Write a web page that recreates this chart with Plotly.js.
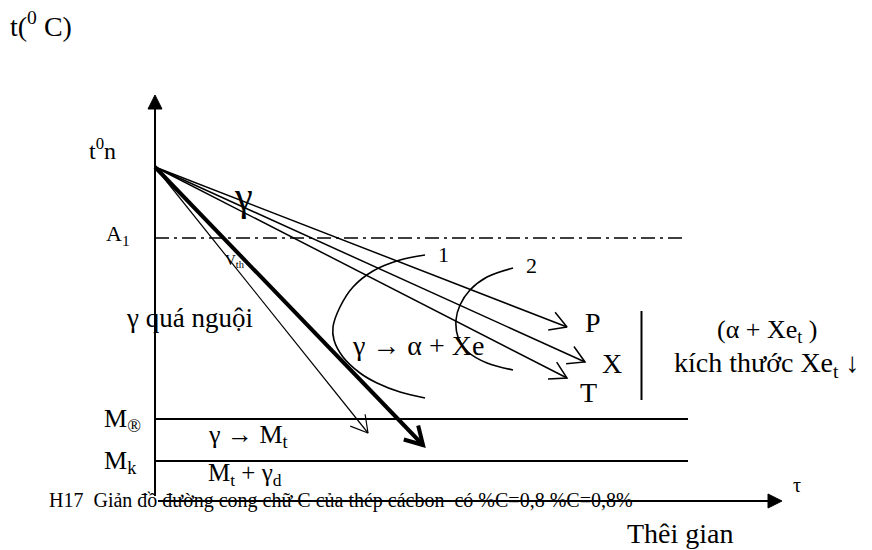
<!DOCTYPE html>
<html>
<head>
<meta charset="utf-8">
<script src="https://cdn.plot.ly/plotly-3.0.1.min.js"></script>
<style>
  html, body { margin: 0; padding: 0; background: #fff; }
  #chart { width: 872px; height: 550px; }
</style>
</head>
<body>
<div id="chart"></div>
<script>
// Diagram units: x runs left to right, y runs top to bottom (reversed axis).

// Origin of the axes and the start temperature t0n
const axisOriginX = 155;
const startTempY = 167;
const axisTopY = 95;
const axisBottomY = 496;
const axisEndX = 782;
const axisY = 501;

// Horizontal temperature levels: A1, Mđ (M®), Mk
const levelNames = ['A1', 'Md', 'Mk'];
const levelY = [238, 419, 461];
const levelEndX = [685, 688, 688];

// Cooling paths from t0n: P, X, T, critical (thin), martensite (bold)
const pathNames = ['P', 'X', 'T', 'Vth', 'M'];
const pathEndX = [567, 585, 567, 368, 423];
const pathEndY = [327, 362, 378, 433, 445];

// C-curve 1 (start of transformation)
const curve1X = [425, 400, 373, 353, 340, 333, 334, 343, 360, 377, 400, 425];
const curve1Y = [255, 260, 271, 287, 307, 327, 340, 357, 373, 383, 392, 398];

// C-curve 2 (end of transformation)
const curve2X = [513, 487, 470, 460, 456, 458, 468, 487, 513];
const curve2Y = [268, 277, 290, 305, 320, 337, 352, 363, 370];

// Divider next to the P / X / T products
const dividerX = 641.5;
const dividerY = [311, 400];

const black = '#000';
const serif = 'Liberation Serif, serif';

const traces = [];

function line(xs, ys, width, dash) {
  traces.push({
    type: 'scatter', mode: 'lines', x: xs, y: ys,
    line: { color: black, width: width, dash: dash || 'solid' },
    hoverinfo: 'skip'
  });
}

function filledTriangle(xs, ys) {
  traces.push({
    type: 'scatter', mode: 'lines', x: xs, y: ys, fill: 'toself',
    fillcolor: black, line: { color: black, width: 1 }, hoverinfo: 'skip'
  });
}

// Open arrowhead at (tx, ty) pointing away from (fx, fy)
function openHead(fx, fy, tx, ty, len, spreadDeg, width) {
  const a = Math.atan2(fy - ty, fx - tx);
  const s = spreadDeg * Math.PI / 180;
  line([tx + len * Math.cos(a + s), tx, tx + len * Math.cos(a - s)],
       [ty + len * Math.sin(a + s), ty, ty + len * Math.sin(a - s)], width);
}

// Axes with filled arrow tips
const tipLen = 14, tipHalf = 7;
line([axisOriginX, axisOriginX], [axisBottomY, axisTopY + tipLen], 2);
filledTriangle([axisOriginX, axisOriginX - tipHalf, axisOriginX + tipHalf, axisOriginX],
               [axisTopY, axisTopY + tipLen, axisTopY + tipLen, axisTopY]);
line([axisOriginX + 3, axisEndX - tipLen], [axisY, axisY], 2);
filledTriangle([axisEndX, axisEndX - tipLen, axisEndX - tipLen, axisEndX],
               [axisY, axisY - tipHalf, axisY + tipHalf, axisY]);

// Temperature levels
levelY.forEach((y, i) => {
  line([axisOriginX, levelEndX[i]], [y, y], i === 0 ? 1.4 : 2, i === 0 ? '14px,5px,3px,5px' : 'solid');
});

// Cooling paths
const pathWidth = [1.5, 1.5, 1.5, 1.2, 4];
pathEndX.forEach((x, i) => {
  line([axisOriginX, x], [startTempY, pathEndY[i]], pathWidth[i]);
  openHead(axisOriginX, startTempY, x, pathEndY[i], i === 4 ? 20 : 19, 30, pathWidth[i]);
});

// C-curves
traces.push({ type: 'scatter', mode: 'lines', x: curve1X, y: curve1Y,
  line: { color: black, width: 1.6, shape: 'spline', smoothing: 1 }, hoverinfo: 'skip' });
traces.push({ type: 'scatter', mode: 'lines', x: curve2X, y: curve2Y,
  line: { color: black, width: 1.6, shape: 'spline', smoothing: 1 }, hoverinfo: 'skip' });

// Divider
line([dividerX, dividerX], dividerY, 2);

function label(text, x, y, size, xanchor) {
  return {
    text: text, x: x, y: y, xref: 'x', yref: 'y', showarrow: false,
    xanchor: xanchor || 'center', yanchor: 'middle',
    font: { family: serif, size: size, color: black }
  };
}

const annotations = [
  label('t(<sup>0</sup> C)', 8, 24, 28, 'left'),
  label('t<sup>0</sup>n', 118, 149, 24, 'right'),
  label('A<sub>1</sub>', 104, 235, 22, 'left'),
  label('γ', 243, 196, 40),
  label('V<sub>th</sub>', 235, 261, 15),
  label('γ quá nguội', 124, 318, 27, 'left'),
  label('1', 443, 254, 22),
  label('2', 531, 265, 22),
  label('γ → α + Xe', 350, 345, 28, 'left'),
  label('P', 593, 322, 28),
  label('X', 612, 363, 28),
  label('T', 588, 392, 28),
  label('(α + Xe<sub>t</sub> )', 767, 331, 26),
  label('kích thước Xe<sub>t</sub> ↓', 767, 364, 28),
  label('M<sub>®</sub>', 102, 420, 26, 'left'),
  label('M<sub>k</sub>', 102, 462, 26, 'left'),
  label('γ → M<sub>t</sub>', 206, 436, 26, 'left'),
  label('M<sub>t</sub> + γ<sub>d</sub>', 206, 474, 25, 'left'),
  label('H17  Giản đồ đường cong chữ C của thép cácbon  có %C=0,8 %C=0,8%', 47, 500, 20, 'left'),
  label('τ', 797, 485, 20),
  label('Thêi gian', 625, 533, 28, 'left')
];

const layout = {
  width: 872, height: 550,
  margin: { l: 0, r: 0, t: 0, b: 0, pad: 0 },
  paper_bgcolor: '#fff', plot_bgcolor: '#fff',
  showlegend: false, hovermode: false,
  xaxis: { range: [0, 872], visible: false, fixedrange: true },
  yaxis: { range: [550, 0], visible: false, fixedrange: true },
  annotations: annotations
};

Plotly.newPlot('chart', traces, layout, { staticPlot: true, displayModeBar: false });
</script>
</body>
</html>
